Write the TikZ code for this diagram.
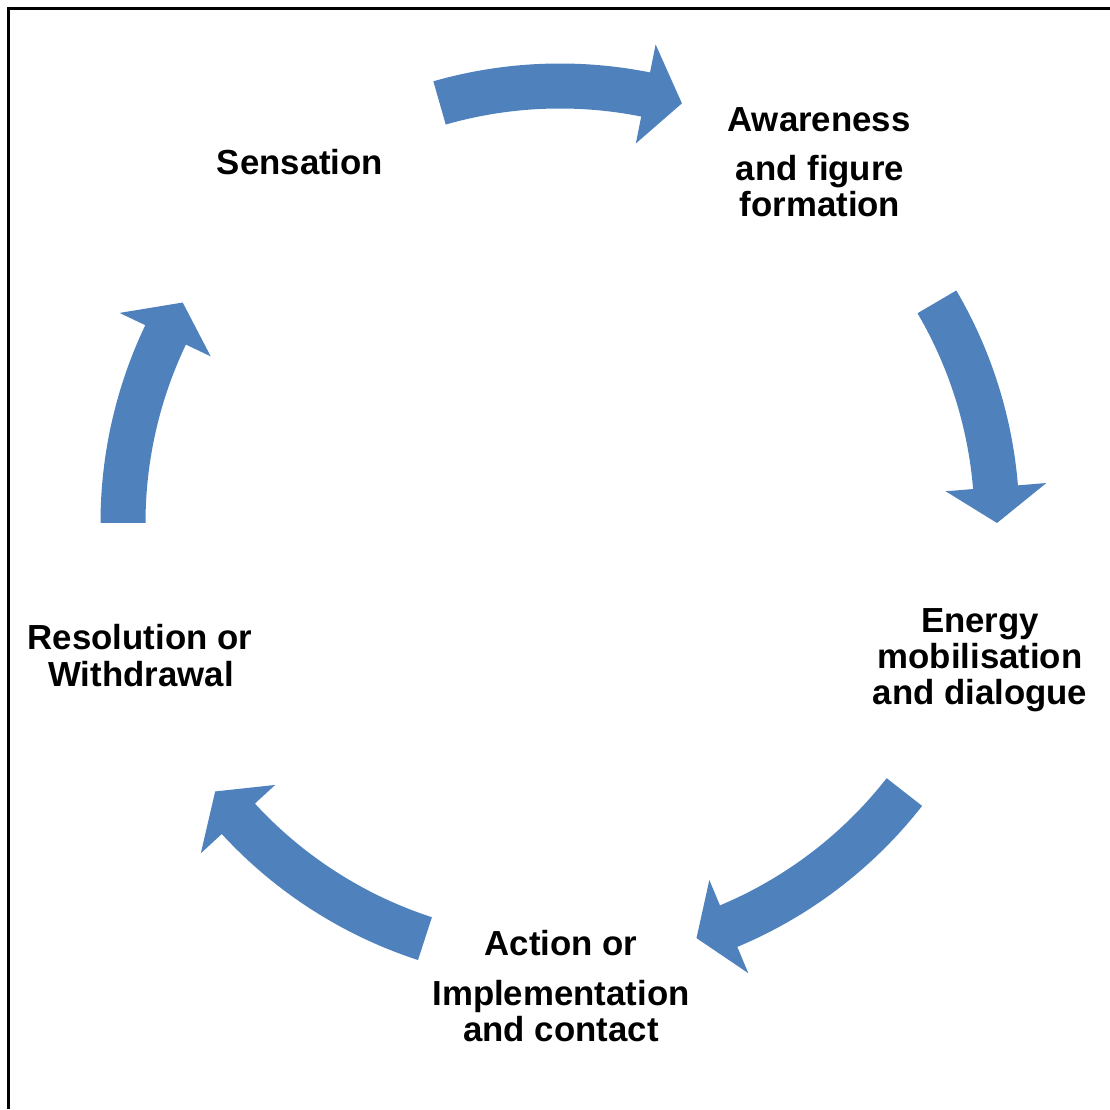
\documentclass[tikz,border=0pt]{standalone}
\usepackage{fontspec}
\setmainfont{Liberation Sans}
\begin{document}
\begin{tikzpicture}[x=1pt,y=1pt,
  lbl/.style={font=\fontsize{34.8}{36.5}\selectfont\bfseries, anchor=base, inner sep=0pt},
  cyclefill/.style={fill=cycleblue}]
\definecolor{cycleblue}{RGB}{79,129,189}
\useasboundingbox (0,0) rectangle (1110,1109);
% frame on the left and top edges
\draw[line width=3.8pt] (8.5,0) -- (8.5,1100.5) -- (1110,1100.5);
% curved block arrow: tail angle, head base angle, tip angle
\newcommand\cyclearrow[3]{%
  \fill[cyclefill] (#1:459.5) arc[start angle=#1, end angle=#2, radius=459.5]
    -- (#2:488) -- (#3:437) -- (#2:387) -- (#2:414.5)
    arc[start angle=#2, end angle=#1, radius=414.5] -- cycle;}
\begin{scope}[shift={(560,586)}]
  \cyclearrow{106}{78.7}{73.8}
  \cyclearrow{30.4}{4.7}{0}
  \cyclearrow{-38}{-67.3}{-71.8}
  \cyclearrow{-108}{-137.4}{-142.1}
  \cyclearrow{180}{154.5}{149.7}
\end{scope}
% stage labels
\node[lbl] (sens) at (300,934) {Sensation};
\node[lbl] (aw1) at (819,977) {Awareness};
\node[lbl] (aw2) at (820,928) {and figure};
\node[lbl] (aw3) at (820,892) {formation};
\node[lbl] (en1) at (980,476.5) {Energy};
\node[lbl] (en2) at (980,440) {mobilisation};
\node[lbl] (en3) at (980,404) {and dialogue};
\node[lbl] (ac1) at (561,154) {Action or};
\node[lbl] (ac2) at (561,104) {Implementation};
\node[lbl] (ac3) at (561,68) {and contact};
\node[lbl] (re1) at (140,459) {Resolution or};
\node[lbl] (re2) at (141,422) {Withdrawal};
\end{tikzpicture}
\end{document}
